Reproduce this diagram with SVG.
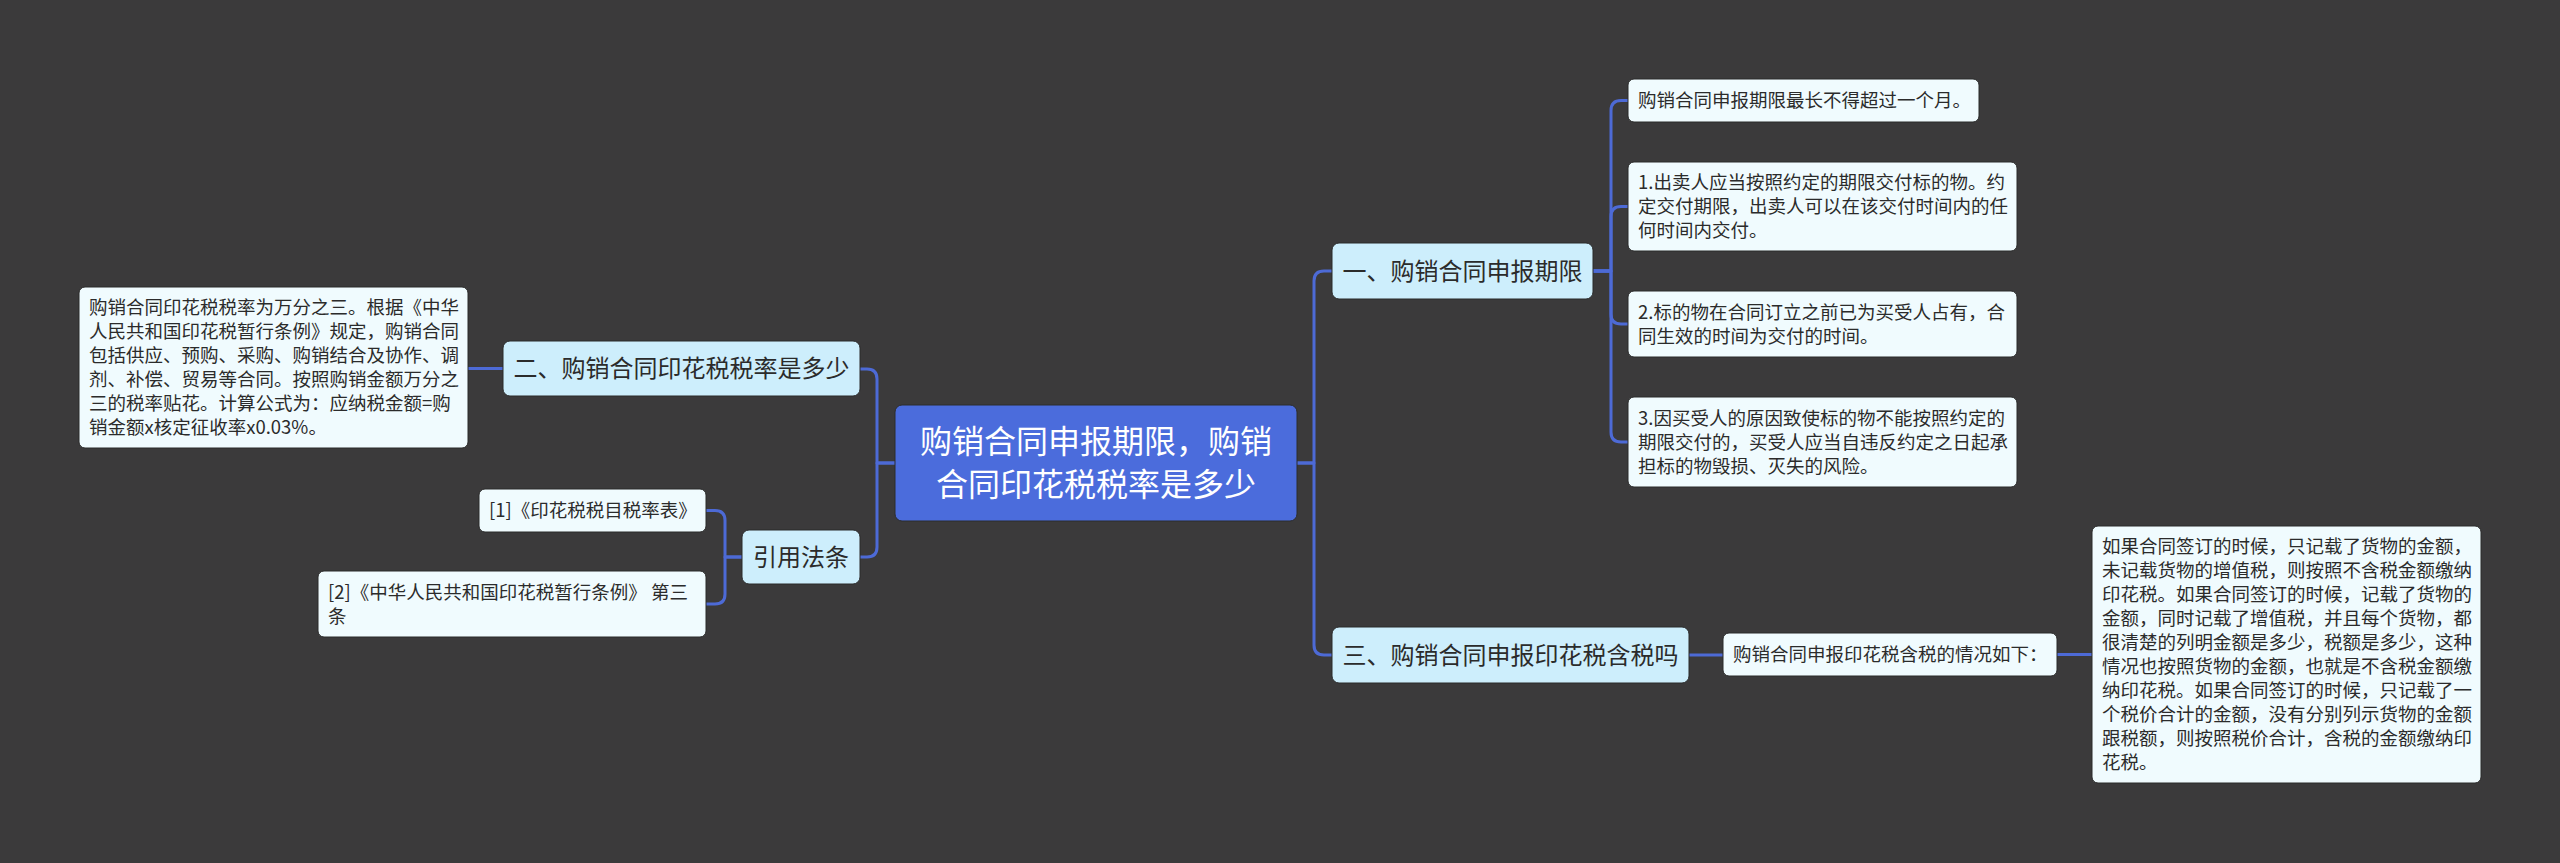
<svg xmlns="http://www.w3.org/2000/svg" width="2560" height="863" viewBox="0 0 2560 863">
<style>
text{font-family:"Noto Sans CJK SC","Noto Sans",sans-serif}
.root{fill:#4b6cdc;stroke:#2c2c2c;stroke-width:1}
.l1{fill:#cdeefc;stroke:#2a2a2a;stroke-width:1}
.leaf{fill:#f0fbfe;stroke:#2a2a2a;stroke-width:1}
.tr{fill:#ffffff;font-size:32px}
.t1{fill:#2b2b2b;font-size:24px}
.t2{fill:#2b2b2b;font-size:18.5px}
.c{fill:none;stroke:#4d6ad6;stroke-width:3;stroke-linecap:round;stroke-linejoin:round}
</style>
<rect width="2560" height="863" fill="#3b3a3b"/>
<g id="connectors">
<path class="c" d="M895 463 H877 V379 Q877 369 867 369 H860"/>
<path class="c" d="M895 463 H877 V547 Q877 557 867 557 H860"/>
<path class="c" d="M503 368.5 H468"/>
<path class="c" d="M742 557 H725 V520.5 Q725 510.5 715 510.5 H706"/>
<path class="c" d="M742 557 H725 V594 Q725 604 715 604 H706"/>
<path class="c" d="M1297 463 H1314 V281 Q1314 271 1324 271 H1332"/>
<path class="c" d="M1297 463 H1314 V645 Q1314 655 1324 655 H1332"/>
<path class="c" d="M1593 271 H1611 V110.5 Q1611 100.5 1621 100.5 H1628"/>
<path class="c" d="M1593 271 H1611 V216.5 Q1611 206.5 1621 206.5 H1628"/>
<path class="c" d="M1593 271 H1611 V314 Q1611 324 1621 324 H1628"/>
<path class="c" d="M1593 271 H1611 V432 Q1611 442 1621 442 H1628"/>
<path class="c" d="M1689 655 H1723"/>
<path class="c" d="M2057 654.5 H2092"/>
</g>
<g id="root">
<rect class="root" x="895" y="405" width="402" height="116" rx="7"/>
<text class="tr" text-anchor="middle" x="1096" y="452.5">购销合同申报期限，购销</text>
<text class="tr" text-anchor="middle" x="1096" y="495.5">合同印花税税率是多少</text>
</g>
<g id="n1">
<rect class="l1" x="1332" y="243" width="261" height="56" rx="7"/>
<text class="t1" text-anchor="middle" x="1462.5" y="279.5">一、购销合同申报期限</text>
</g>
<g id="n2">
<rect class="l1" x="503" y="341" width="357" height="55" rx="7"/>
<text class="t1" text-anchor="middle" x="681.5" y="377">二、购销合同印花税税率是多少</text>
</g>
<g id="n3">
<rect class="l1" x="1332" y="627" width="357" height="56" rx="7"/>
<text class="t1" text-anchor="middle" x="1510.5" y="663.5">三、购销合同申报印花税含税吗</text>
</g>
<g id="n4">
<rect class="l1" x="742" y="530" width="118" height="54" rx="7"/>
<text class="t1" text-anchor="middle" x="801" y="565.5">引用法条</text>
</g>
<g id="a">
<rect class="leaf" x="1628" y="79" width="351" height="43" rx="6"/>
<text class="t2" x="1638" y="107">购销合同申报期限最长不得超过一个月。</text>
</g>
<g id="b">
<rect class="leaf" x="1628" y="162" width="389" height="89" rx="6"/>
<text class="t2" x="1638" y="189">1.出卖人应当按照约定的期限交付标的物。约</text>
<text class="t2" x="1638" y="213">定交付期限，出卖人可以在该交付时间内的任</text>
<text class="t2" x="1638" y="237">何时间内交付。</text>
</g>
<g id="c">
<rect class="leaf" x="1628" y="291" width="389" height="66" rx="6"/>
<text class="t2" x="1638" y="318.5">2.标的物在合同订立之前已为买受人占有，合</text>
<text class="t2" x="1638" y="342.5">同生效的时间为交付的时间。</text>
</g>
<g id="d">
<rect class="leaf" x="1628" y="397" width="389" height="90" rx="6"/>
<text class="t2" x="1638" y="424.5">3.因买受人的原因致使标的物不能按照约定的</text>
<text class="t2" x="1638" y="448.5">期限交付的，买受人应当自违反约定之日起承</text>
<text class="t2" x="1638" y="472.5">担标的物毁损、灭失的风险。</text>
</g>
<g id="e">
<rect class="leaf" x="1723" y="633" width="334" height="43" rx="6"/>
<text class="t2" x="1733" y="661">购销合同申报印花税含税的情况如下：</text>
</g>
<g id="f">
<rect class="leaf" x="2092" y="526" width="389" height="257" rx="6"/>
<text class="t2" x="2102" y="553">如果合同签订的时候，只记载了货物的金额，</text>
<text class="t2" x="2102" y="577">未记载货物的增值税，则按照不含税金额缴纳</text>
<text class="t2" x="2102" y="601">印花税。如果合同签订的时候，记载了货物的</text>
<text class="t2" x="2102" y="625">金额，同时记载了增值税，并且每个货物，都</text>
<text class="t2" x="2102" y="649">很清楚的列明金额是多少，税额是多少，这种</text>
<text class="t2" x="2102" y="673">情况也按照货物的金额，也就是不含税金额缴</text>
<text class="t2" x="2102" y="697">纳印花税。如果合同签订的时候，只记载了一</text>
<text class="t2" x="2102" y="721">个税价合计的金额，没有分别列示货物的金额</text>
<text class="t2" x="2102" y="745">跟税额，则按照税价合计，含税的金额缴纳印</text>
<text class="t2" x="2102" y="769">花税。</text>
</g>
<g id="g">
<rect class="leaf" x="79" y="287" width="389" height="161" rx="6"/>
<text class="t2" x="89" y="314">购销合同印花税税率为万分之三。根据《中华</text>
<text class="t2" x="89" y="338">人民共和国印花税暂行条例》规定，购销合同</text>
<text class="t2" x="89" y="362">包括供应、预购、采购、购销结合及协作、调</text>
<text class="t2" x="89" y="386">剂、补偿、贸易等合同。按照购销金额万分之</text>
<text class="t2" x="89" y="410">三的税率贴花。计算公式为：应纳税金额=购</text>
<text class="t2" x="89" y="434">销金额x核定征收率x0.03%。</text>
</g>
<g id="h">
<rect class="leaf" x="479" y="489" width="227" height="43" rx="6"/>
<text class="t2" x="489" y="517">[1]《印花税税目税率表》</text>
</g>
<g id="i">
<rect class="leaf" x="318" y="571" width="388" height="66" rx="6"/>
<text class="t2" x="328" y="598.5">[2]《中华人民共和国印花税暂行条例》 第三</text>
<text class="t2" x="328" y="622.5">条</text>
</g>
</svg>
